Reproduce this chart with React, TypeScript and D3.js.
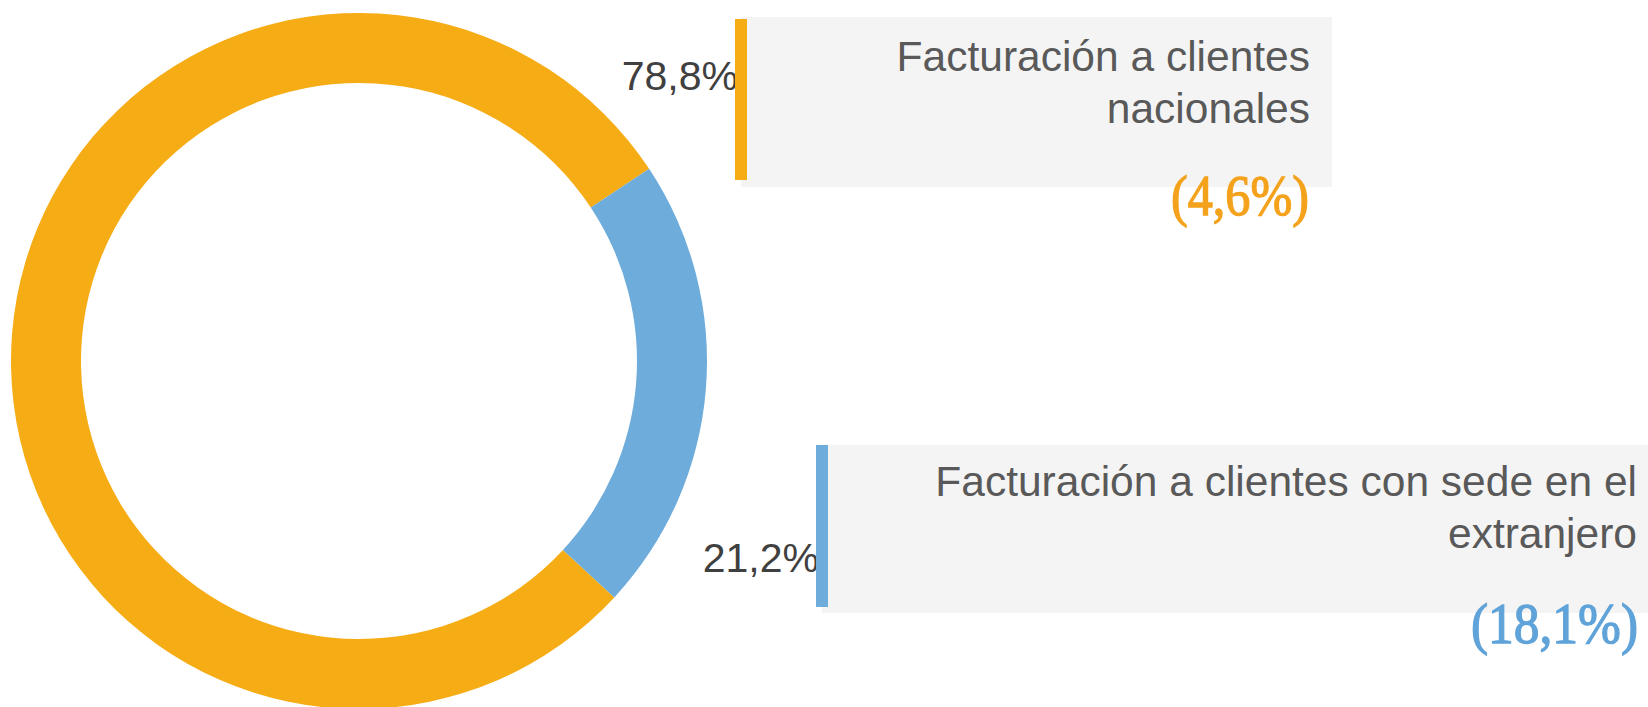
import React from "react";
import * as d3 from "d3";

const categories = ["Facturación a clientes nacionales", "Facturación a clientes con sede en el extranjero"];
const legendLines = [
  ["Facturación a clientes", "nacionales"],
  ["Facturación a clientes con sede en el", "extranjero"],
];
const shares = [78.8, 21.2];
const shareLabels = ["78,8%", "21,2%"];
const variationLabels = ["(4,6%)", "(18,1%)"];
const colors = ["#F6AC15", "#6DACDB"];
const variationColors = ["#F4A21C", "#5FA3D9"];

const W = 1648;
const H = 707;

export default function App() {
  const cx = 359;
  const cy = 361;
  const rOuter = 348;
  const rInner = 278;
  const start = (132.8 * Math.PI) / 180;

  const pie = d3
    .pie<number>()
    .sort(null)
    .value((d) => d)
    .startAngle(start)
    .endAngle(start + 2 * Math.PI);
  const arcs = pie(shares);
  const arc = d3.arc<d3.PieArcDatum<number>>().innerRadius(rInner).outerRadius(rOuter);

  const boxes = [
    { barX: 735, barY0: 19, barY1: 180, boxX0: 741, boxY0: 17, boxX1: 1332, boxY1: 187, textX: 1310, line1: 70.5, line2: 122.5, pctX: 738, pctY: 89.5, varX: 1171, varY: 215, varLen: 138 },
    { barX: 816, barY0: 445, barY1: 607, boxX0: 822, boxY0: 445, boxX1: 1660, boxY1: 613, textX: 1637, line1: 496, line2: 548, pctX: 819, pctY: 572, varX: 1471, varY: 643, varLen: 167 },
  ];

  return (
    <svg
      width={W}
      height={H}
      style={{ position: "absolute", left: 0, top: 0, display: "block", background: "#fff" }}
    >
      <g transform={`translate(${cx},${cy})`}>
        {arcs.map((a, i) => (
          <path key={categories[i]} d={arc(a) || ""} fill={colors[i]} />
        ))}
      </g>
      {boxes.map((b, i) => (
        <g key={i}>
          <rect x={b.boxX0} y={b.boxY0} width={b.boxX1 - b.boxX0} height={b.boxY1 - b.boxY0} fill="#F4F4F4" />
          <text
            x={b.pctX}
            y={b.pctY}
            textAnchor="end"
            fontFamily="'Liberation Sans', Arial, sans-serif"
            fontSize={41}
            fill="#404040"
          >
            {shareLabels[i]}
          </text>
          <rect x={b.barX} y={b.barY0} width={12} height={b.barY1 - b.barY0} fill={colors[i]} />
          <text
            textAnchor="end"
            fontFamily="'Liberation Sans', Arial, sans-serif"
            fontSize={42.5}
            fill="#595959"
          >
            <tspan x={b.textX} y={b.line1}>{legendLines[i][0]}</tspan>
            <tspan x={b.textX} y={b.line2}>{legendLines[i][1]}</tspan>
          </text>
          <text
            x={b.varX}
            y={b.varY}
            fontFamily="'Liberation Serif', 'Times New Roman', serif"
            fontSize={56}
            fill={variationColors[i]}
            stroke={variationColors[i]}
            strokeWidth={1.3}
            textLength={b.varLen}
            lengthAdjust="spacingAndGlyphs"
          >
            {variationLabels[i]}
          </text>
        </g>
      ))}
    </svg>
  );
}
